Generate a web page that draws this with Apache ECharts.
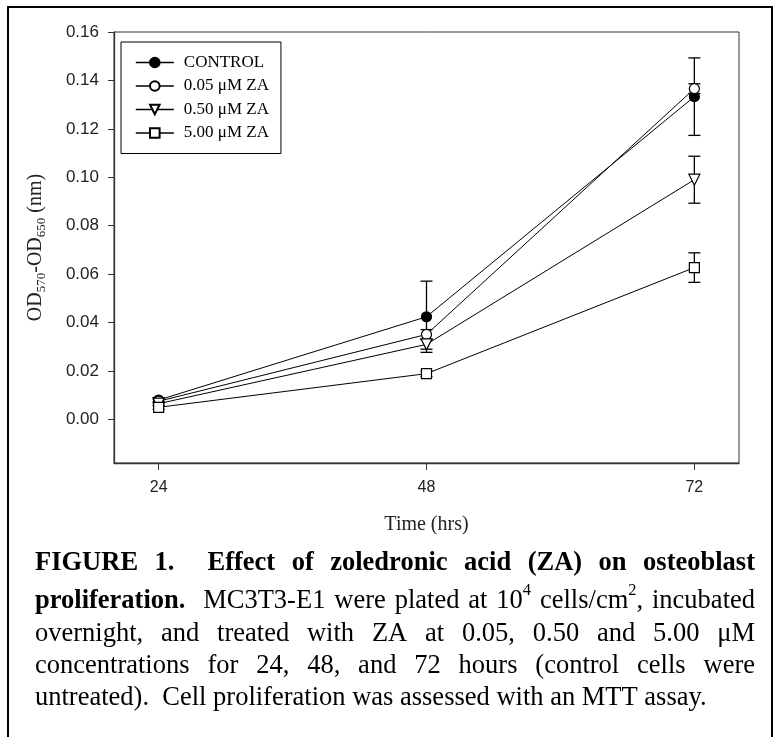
<!DOCTYPE html>
<html>
<head>
<meta charset="utf-8">
<script src="https://cdn.jsdelivr.net/npm/echarts@6/dist/echarts.min.js"></script>
<style>
html, body { margin: 0; padding: 0; background: #fff; }
#chart { width: 775px; height: 737px; }
</style>
</head>
<body>
<div id="chart"></div>
<script>
// data
var hours = [24, 48, 72];
var xTicks = [24, 48, 72];
var yTicks = [0, 0.02, 0.04, 0.06, 0.08, 0.10, 0.12, 0.14, 0.16];
var seriesNames = ['CONTROL', '0.05 μM ZA', '0.50 μM ZA', '5.00 μM ZA'];

var control = [0.0080, 0.0424, 0.1333];
var controlErr = [0.0010, 0.0147, 0.0160];
var za005 = [0.0075, 0.0351, 0.1366];
var za005Err = [0.0008, 0.0020, 0.0020];
var za050 = [0.0065, 0.0310, 0.0990];
var za050Err = [0.0008, 0.0020, 0.0097];
var za500 = [0.0050, 0.0189, 0.0627];
var za500Err = [0.0008, 0.0012, 0.0061];

var captionLines = [
    'FIGURE 1.  Effect of zoledronic acid (ZA) on osteoblast',
    'proliferation.  MC3T3-E1 were plated at 10^4 cells/cm^2, incubated',
    'overnight, and treated with ZA at 0.05, 0.50 and 5.00 μM',
    'concentrations for 24, 48, and 72 hours (control cells were',
    'untreated).  Cell proliferation was assessed with an MTT assay.'
];
var captionBoldWords = [9, 1, 0, 0, 0];
var captionJustify = [true, true, true, true, false];

var serif = '"Liberation Serif", "Times New Roman", serif';
var sans = '"Liberation Sans", Arial, sans-serif';

function pairs(vals) {
    return hours.map(function (h, i) { return [h, vals[i]]; });
}

function errorSeries(vals, errs) {
    return {
        type: 'custom',
        z: 1,
        silent: true,
        renderItem: function (params, api) {
            var x = api.value(0), y = api.value(1), e = api.value(2);
            var hi = api.coord([x, y + e]);
            var lo = api.coord([x, y - e]);
            var w = 6;
            var st = { stroke: '#000', lineWidth: 1.3 };
            return {
                type: 'group',
                children: [
                    { type: 'line', shape: { x1: hi[0], y1: hi[1], x2: lo[0], y2: lo[1] }, style: st },
                    { type: 'line', shape: { x1: hi[0] - w, y1: hi[1], x2: hi[0] + w, y2: hi[1] }, style: st },
                    { type: 'line', shape: { x1: lo[0] - w, y1: lo[1], x2: lo[0] + w, y2: lo[1] }, style: st }
                ]
            };
        },
        encode: { x: 0, y: 1 },
        data: hours.map(function (h, i) { return [h, vals[i], errs[i]]; })
    };
}

function lineSeries(name, vals, symbol, fill, size, rotate) {
    return {
        name: name,
        type: 'line',
        z: 3,
        data: pairs(vals),
        symbol: symbol,
        symbolSize: size,
        symbolRotate: rotate || 0,
        showAllSymbol: true,
        itemStyle: { color: fill, borderColor: '#000', borderWidth: 1.2 },
        lineStyle: { color: '#000', width: 1 },
        emphasis: { disabled: true }
    };
}

// caption: justified lines measured with a canvas
var capSize = 26.5;
var capLeft = 35, capRight = 755;
var capMid = [563, 601, 634, 666, 698];
var measureCtx = document.createElement('canvas').getContext('2d');

function fontStr(bold, size) {
    return (bold ? 'bold ' : '') + size + 'px ' + serif;
}
function textW(t, bold, size) {
    measureCtx.font = fontStr(bold, size);
    return measureCtx.measureText(t).width;
}
function splitSup(word) {
    var segs = [], cur = '';
    for (var i = 0; i < word.length; i++) {
        if (word[i] === '^') {
            if (cur) segs.push({ t: cur, sup: false });
            segs.push({ t: word[i + 1], sup: true });
            cur = '';
            i++;
        } else {
            cur += word[i];
        }
    }
    if (cur) segs.push({ t: cur, sup: false });
    return segs;
}

function buildCaption() {
    var els = [];
    captionLines.forEach(function (line, li) {
        var parts = line.split(/( +)/);
        var words = [], gaps = [];
        for (var i = 0; i < parts.length; i++) {
            if (i % 2 === 0) words.push(parts[i]);
            else gaps.push(parts[i].length);
        }
        var items = words.map(function (w, wi) {
            var bold = wi < captionBoldWords[li];
            var segs = splitSup(w).map(function (s) {
                var sz = s.sup ? capSize * 0.62 : capSize;
                return { t: s.t, sup: s.sup, bold: bold, size: sz, w: textW(s.t, bold, sz) };
            });
            var tw = segs.reduce(function (a, s) { return a + s.w; }, 0);
            return { segs: segs, w: tw };
        });
        var spaceW = textW(' ', false, capSize);
        var wordsW = items.reduce(function (a, it) { return a + it.w; }, 0);
        var nSpaces = gaps.reduce(function (a, g) { return a + g; }, 0);
        var unit = spaceW;
        if (captionJustify[li] && nSpaces > 0) {
            unit = (capRight - capLeft - wordsW) / nSpaces;
        }
        var x = capLeft;
        items.forEach(function (it, wi) {
            it.segs.forEach(function (s) {
                els.push({
                    type: 'text',
                    x: x,
                    y: s.sup ? capMid[li] - 10 : capMid[li],
                    silent: true,
                    style: {
                        text: s.t,
                        font: fontStr(s.bold, s.size),
                        fill: '#000',
                        align: 'left',
                        verticalAlign: 'middle',
                        textAlign: 'left',
                        textVerticalAlign: 'middle'
                    }
                });
                x += s.w;
            });
            if (wi < gaps.length) x += gaps[wi] * unit;
        });
    });
    return els;
}

var chart = echarts.init(document.getElementById('chart'));

var graphics = [{
    type: 'rect',
    silent: true,
    z: -10,
    shape: { x: 8, y: 7, width: 764, height: 745 },
    style: { fill: 'none', stroke: '#000', lineWidth: 2 }
}].concat(buildCaption());

chart.setOption({
    backgroundColor: '#fff',
    animation: false,
    grid: {
        left: 114, right: 36, top: 32, bottom: 274,
        show: true, borderColor: '#333', borderWidth: 1, backgroundColor: 'transparent'
    },
    legend: {
        data: seriesNames,
        orient: 'vertical',
        left: 121,
        top: 42,
        itemWidth: 38,
        itemHeight: 12,
        itemGap: 6.5,
        padding: [12, 12, 12, 14],
        borderColor: '#000',
        borderWidth: 1,
        backgroundColor: '#fff',
        selectedMode: false,
        lineStyle: { width: 1.6 },
        textStyle: { fontFamily: serif, fontSize: 17, color: '#000', padding: [0, 0, 0, 5], lineHeight: 17 }
    },
    xAxis: {
        type: 'value',
        min: 20,
        max: 76,
        axisLine: { show: true, onZero: false, lineStyle: { color: '#333', width: 1.3 } },
        axisTick: { show: true, inside: false, length: 7, customValues: xTicks, lineStyle: { color: '#333' } },
        axisLabel: {
            customValues: xTicks,
            formatter: function (v) { return String(v); },
            fontFamily: sans, fontSize: 16, color: '#222', margin: 17
        },
        splitLine: { show: false },
        name: 'Time (hrs)',
        nameLocation: 'middle',
        nameGap: 52,
        nameTextStyle: { fontFamily: serif, fontSize: 20, color: '#222' }
    },
    yAxis: {
        type: 'value',
        min: -0.018,
        max: 0.16,
        axisLine: { show: true, onZero: false, lineStyle: { color: '#333', width: 1.3 } },
        axisTick: { show: true, inside: false, length: 6, customValues: yTicks, lineStyle: { color: '#333' } },
        axisLabel: {
            customValues: yTicks,
            formatter: function (v) { return v.toFixed(2); },
            fontFamily: sans, fontSize: 17, color: '#222', margin: 15
        },
        splitLine: { show: false },
        name: '{m|OD}{s|570}{m|-OD}{s|650}{m| (nm)}',
        nameLocation: 'middle',
        nameRotate: 90,
        nameGap: 66,
        nameTextStyle: {
            fontFamily: serif, fontSize: 20, color: '#222',
            rich: {
                m: { fontFamily: serif, fontSize: 20, color: '#222', lineHeight: 24 },
                s: { fontFamily: serif, fontSize: 13, color: '#222', lineHeight: 8, verticalAlign: 'bottom' }
            }
        }
    },
    graphic: graphics,
    series: [
        errorSeries(control, controlErr),
        errorSeries(za005, za005Err),
        errorSeries(za050, za050Err),
        errorSeries(za500, za500Err),
        lineSeries(seriesNames[0], control, 'circle', '#000', 10),
        lineSeries(seriesNames[1], za005, 'circle', '#fff', 10),
        lineSeries(seriesNames[2], za050, 'triangle', '#fff', 11, 180),
        lineSeries(seriesNames[3], za500, 'rect', '#fff', 10)
    ]
});
</script>
</body>
</html>
